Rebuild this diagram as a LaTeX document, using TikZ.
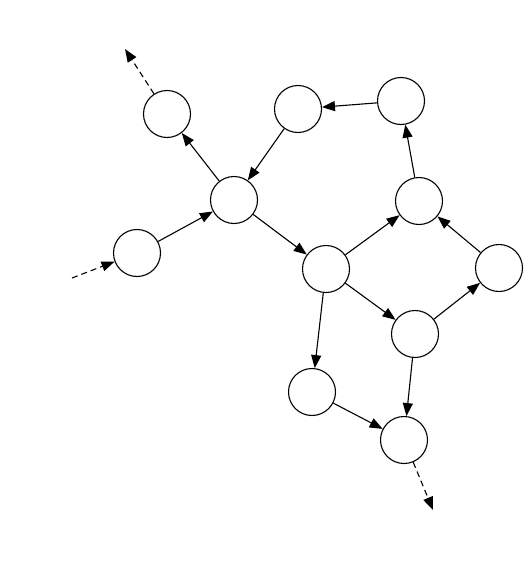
\documentclass[tikz,border=0pt]{standalone}
\usetikzlibrary{arrows.meta}
\begin{document}
\begin{tikzpicture}[x=1pt,y=-1pt]
\tikzset{vertex/.style = {shape=circle,draw,line width=1.1pt,minimum size=47pt,inner sep=0pt}}
\tikzset{edge/.style = {-{Triangle[length=13pt,width=10pt]},line width=1.1pt}}
\tikzset{loose/.style = {edge,dash pattern=on 6pt off 4pt}}

\useasboundingbox (0,0) rectangle (528,562);

% Network graph
\node[vertex] (A) at (167,114) {};
\node[vertex] (B) at (298,109) {};
\node[vertex] (C) at (401,101) {};
\node[vertex] (D) at (234,200) {};
\node[vertex] (E) at (419,201) {};
\node[vertex] (F) at (137,253) {};
\node[vertex] (G) at (326,269) {};
\node[vertex] (H) at (499,268) {};
\node[vertex] (I) at (415,334) {};
\node[vertex] (J) at (312,392) {};
\node[vertex] (K) at (404,440) {};

\coordinate (a) at (125,49);
\coordinate (f) at (72,278);
\coordinate (k) at (433,510);

\draw[edge] (D) -- (A);
\draw[edge] (B) -- (D);
\draw[edge] (C) -- (B);
\draw[edge] (E) -- (C);
\draw[edge] (F) -- (D);
\draw[edge] (D) -- (G);
\draw[edge] (G) -- (E);
\draw[edge] (H) -- (E);
\draw[edge] (G) -- (I);
\draw[edge] (I) -- (H);
\draw[edge] (G) -- (J);
\draw[edge] (J) -- (K);
\draw[edge] (I) -- (K);

\draw[loose] (A) -- (a);
\draw[loose] (f) -- (F);
\draw[loose] (K) -- (k);

\end{tikzpicture}
\end{document}
